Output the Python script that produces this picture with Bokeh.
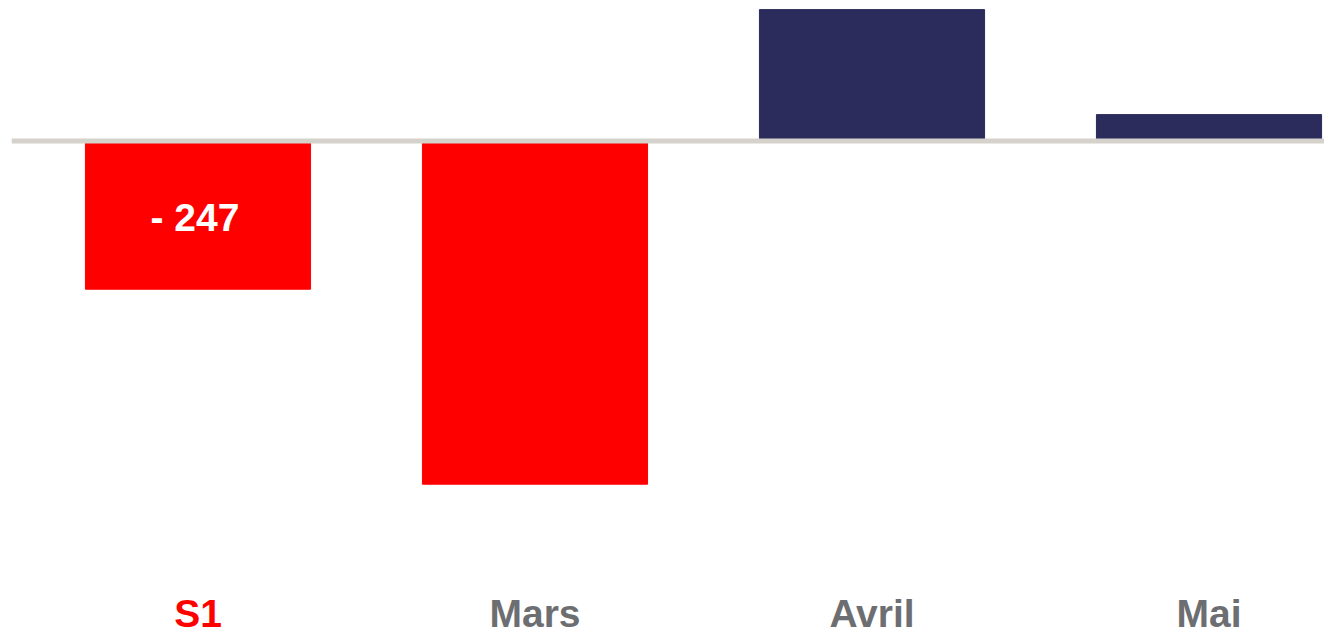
from bokeh.plotting import figure
from bokeh.models import ColumnDataSource, Span, Range1d
from bokeh.core.properties import value
from bokeh.embed import file_html
from bokeh.resources import INLINE

# ---- data ----
categories = ["S1", "Mars", "Avril", "Mai"]
values = [-247, -572, 219, 44]
bar_labels = ["- 247", "", "", ""]
label_colors = ["#FF0000", "#6D6E71", "#6D6E71", "#6D6E71"]

NEG = "#FF0000"
POS = "#2B2B5C"

x = list(range(len(categories)))
colors = [NEG if v < 0 else POS for v in values]

src = ColumnDataSource(dict(
    x=x, top=values, color=colors, cat=categories,
    lcolor=label_colors, blabel=bar_labels,
    mid=[v / 2 for v in values],
))

p = figure(width=1324, height=634, output_backend="svg", toolbar_location=None,
           x_range=Range1d(-0.5534, 3.3427), y_range=Range1d(-822.5, 234.2),
           min_border_left=11, min_border_right=0, min_border_top=0, min_border_bottom=0,
           outline_line_color=None, background_fill_color="white",
           border_fill_color="white")
p.axis.visible = False
p.grid.visible = False

p.vbar(x="x", top="top", bottom=0, width=0.668, color="color", source=src)

p.add_layout(Span(location=0, dimension="width", line_color="#D4D2CB", line_width=5))

# value label inside S1 bar
p.text(x="x", y="mid", text="blabel", source=src, text_color="white",
       text_font=value("Liberation Sans"), text_font_style="bold",
       text_font_size="39px", text_align="center", text_baseline="alphabetic",
       x_offset=-3, y_offset=2)

# category labels
LABEL_Y = -787.0
lab = ColumnDataSource(dict(x=x, y=[LABEL_Y] * len(x), cat=categories, lcolor=label_colors))
p.text(x="x", y="y", text="cat", source=lab, text_color="lcolor",
       text_font=value("Liberation Sans"), text_font_style="bold",
       text_font_size="39px", text_align="center", text_baseline="alphabetic")

open("out.html", "w").write(file_html(p, INLINE))
